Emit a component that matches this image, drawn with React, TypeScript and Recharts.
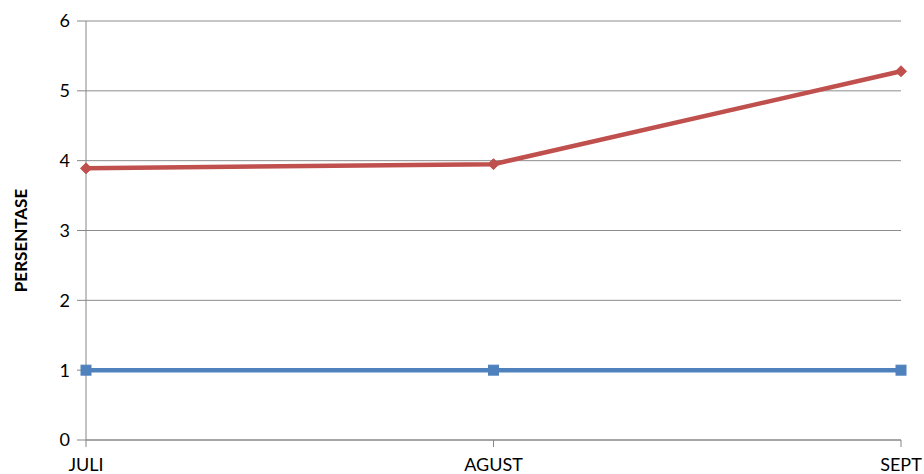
import React from 'react';
import { LineChart, Line, XAxis, YAxis, CartesianGrid } from 'recharts';

const categories = ['JULI', 'AGUST', 'SEPT'];
const seriesRed = [3.89, 3.95, 5.28];
const seriesBlue = [1, 1, 1];
const yTicks = [0, 1, 2, 3, 4, 5, 6];

const data = categories.map((c, i) => ({ name: c, red: seriesRed[i], blue: seriesBlue[i] }));

const Diamond = (props: any) => {
  const { cx, cy } = props;
  if (cx == null || cy == null) return null;
  const r = 5.5;
  return (
    <path
      d={`M${cx},${cy - r} L${cx + r},${cy} L${cx},${cy + r} L${cx - r},${cy} Z`}
      fill="#C0504D"
      stroke="#C0504D"
    />
  );
};

const Square = (props: any) => {
  const { cx, cy } = props;
  if (cx == null || cy == null) return null;
  const s = 5;
  return <rect x={cx - s} y={cy - s} width={2 * s} height={2 * s} fill="#4F81BD" stroke="#4F81BD" />;
};

export default function App() {
  return (
    <div style={{ position: 'absolute', left: 0, top: 0, width: 924, height: 474, background: '#fff' }}>
      <LineChart
        width={924}
        height={474}
        data={data}
        margin={{ top: 21, right: 23, bottom: 0, left: 0 }}
        style={{ fontFamily: 'Lato, sans-serif' }}
      >
        <CartesianGrid vertical={false} stroke="#8c8c8c" strokeWidth={1} />
        <XAxis
          dataKey="name"
          height={34}
          tickSize={7}
          tickMargin={11}
          axisLine={{ stroke: '#868686' }}
          tickLine={{ stroke: '#868686' }}
          tick={{ fill: '#000', fontSize: 18, fontFamily: 'Lato, sans-serif' }}
          interval={0}
        />
        <YAxis
          width={86}
          domain={[0, 6]}
          ticks={yTicks}
          tickSize={9}
          tickMargin={7}
          axisLine={{ stroke: '#868686' }}
          tickLine={{ stroke: '#868686' }}
          tick={{ fill: '#000', fontSize: 18, fontFamily: 'Lato, sans-serif' }}
          label={{
            value: 'PERSENTASE',
            angle: -90,
            position: 'insideLeft',
            offset: 21,
            dy: 10,
            style: { textAnchor: 'middle', fontWeight: 'bold', fontSize: 17, fill: '#000', fontFamily: 'Lato, sans-serif' },
          }}
        />
        <Line
          dataKey="blue"
          stroke="#4F81BD"
          strokeWidth={4.5}
          dot={<Square />}
          activeDot={false}
          isAnimationActive={false}
        />
        <Line
          dataKey="red"
          stroke="#C0504D"
          strokeWidth={4.5}
          dot={<Diamond />}
          activeDot={false}
          isAnimationActive={false}
        />
      </LineChart>
    </div>
  );
}
